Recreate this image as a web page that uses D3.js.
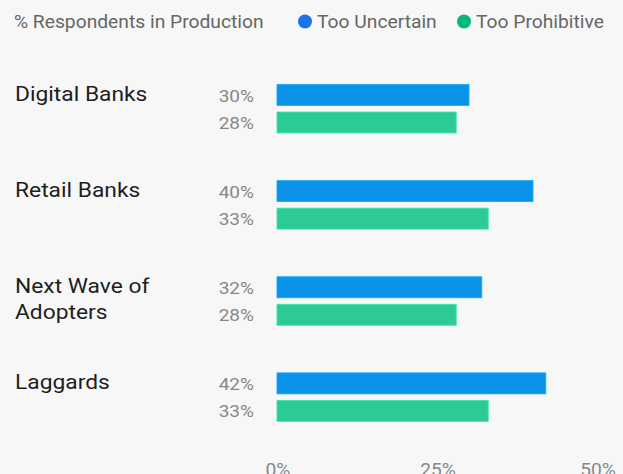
<!DOCTYPE html>
<html><head><meta charset="utf-8">
<script src="https://cdn.jsdelivr.net/npm/d3@7"></script>
<style>
html,body{margin:0;padding:0;background:#f7f7f7;}
svg{display:block;font-family:Roboto,"Noto Sans",sans-serif;}
</style></head>
<body><svg id="c" width="623" height="474"></svg>
<script>
const categories = [["Digital Banks"],["Retail Banks"],["Next Wave of","Adopters"],["Laggards"]];
const seriesNames = ["Too Uncertain","Too Prohibitive"];
const uncertain = [30,40,32,42];
const prohibitive = [28,33,28,33];
const ticks = [0,25,50];
const barColors = ["#0b93ea","#2dcb94"];
const dotColors = ["#1a73e8","#00b877"];

const svg = d3.select("#c");
svg.append("rect").attr("width",623).attr("height",474).attr("fill","#f7f7f7");

const x = d3.scaleLinear().domain([0,50]).range([277,597]);
const yg = d3.scaleBand().domain(d3.range(categories.length)).range([84.5,469]).paddingInner(0).paddingOuter(0);
const barH = 21, gap = 6.5;

// stretched text helper
function txt(g, tx, ty, s, size, fill, anchor, sx){
  return g.append("text")
    .attr("transform",`translate(${tx},${ty}) scale(${sx},1)`)
    .attr("font-size",size).attr("fill",fill).attr("text-anchor",anchor||"start").text(s);
}

// legend
txt(svg,14,28,"% Respondents in Production",18,"#666","start",1.07);
const lx = [305,464];
seriesNames.forEach((s,i)=>{
  svg.append("circle").attr("cx",lx[i]).attr("cy",21.5).attr("r",7).attr("fill",dotColors[i]);
  txt(svg,lx[i]+12,28,s,18,"#666","start",1.07);
});

const series = [uncertain, prohibitive];
categories.forEach((cat,i)=>{
  const y0 = yg(i);
  cat.forEach((line,j)=>{
    txt(svg,15,y0+16.5+j*26,line,20,"#1e1e1e","start",1.14);
  });
  series.forEach((vals,k)=>{
    const by = y0 + k*(barH+gap);
    svg.append("rect").attr("x",x(0)).attr("y",by).attr("width",x(vals[i])-x(0)).attr("height",barH)
      .attr("fill",barColors[k]).attr("stroke",d3.color(barColors[k]).brighter(0.4)).attr("stroke-width",0.8);
    txt(svg,254,by+17,vals[i]+"%",17,"#888","end",1.12);
  });
});

// axis
const axis = svg.append("g");
ticks.forEach(t=>{
  txt(axis,x(t)+1,476,t+"%",17.5,"#888","middle",1.1);
});
</script></body></html>
